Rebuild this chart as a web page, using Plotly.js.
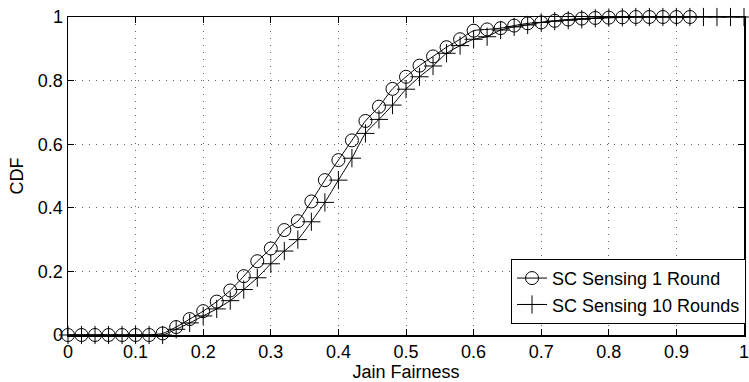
<!DOCTYPE html>
<html><head><meta charset="utf-8">
<script src="https://cdn.plot.ly/plotly-3.0.1.min.js"></script>
<style>html,body{margin:0;padding:0;background:#fff;}#c{width:749px;height:382px;}</style>
</head><body><div id="c"></div>
<script>
const xAll = [0,0.02,0.04,0.06,0.08,0.10,0.12,0.14,0.16,0.18,0.20,0.22,0.24,0.26,0.28,0.30,0.32,0.34,0.36,0.38,0.40,0.42,0.44,0.46,0.48,0.50,0.52,0.54,0.56,0.58,0.60,0.62,0.64,0.66,0.68,0.70,0.72,0.74,0.76,0.78,0.80,0.82,0.84,0.86,0.88,0.90,0.92,0.94,0.96,0.98,1.00];
const xRound1 = xAll.slice(0,47);
const yRound1 = [0,0,0,0,0,0,0,0.005,0.025,0.05,0.075,0.105,0.14,0.185,0.232,0.272,0.33,0.358,0.42,0.487,0.55,0.612,0.673,0.718,0.774,0.812,0.847,0.876,0.905,0.93,0.957,0.961,0.965,0.973,0.98,0.983,0.988,0.992,0.995,0.997,0.998,0.999,1,1,1,1,1];
const xRound10 = xAll;
const yRound10 = [0,0,0,0,0,0,0,0,0.018,0.038,0.06,0.082,0.108,0.143,0.18,0.224,0.264,0.30,0.356,0.417,0.487,0.556,0.634,0.678,0.723,0.773,0.812,0.846,0.886,0.91,0.93,0.938,0.959,0.969,0.975,0.983,0.987,0.99,0.993,0.996,0.998,0.999,1,1,1,1,1,1,1,1,1];
const names = ["SC Sensing 1 Round","SC Sensing 10 Rounds"];
const xTicks = [0,0.1,0.2,0.3,0.4,0.5,0.6,0.7,0.8,0.9,1];
const xTickText = ["0","0.1","0.2","0.3","0.4","0.5","0.6","0.7","0.8","0.9","1"];
const yTicks = [0,0.2,0.4,0.6,0.8,1];
const yTickText = ["0","0.2","0.4","0.6","0.8","1"];

const font = "'Liberation Sans', Arial, sans-serif";
const traces = [
  {x:xRound1,y:yRound1,name:names[0],type:"scatter",mode:"lines+markers",
   line:{color:"#000",width:1,shape:"spline",smoothing:0.6},
   marker:{symbol:"circle-open",size:13,color:"#000",line:{width:1,color:"#000"}},cliponaxis:false},
  {x:xRound10,y:yRound10,name:names[1],type:"scatter",mode:"lines+markers",
   line:{color:"#000",width:1,shape:"spline",smoothing:0.6},
   marker:{symbol:"cross-thin-open",size:13,color:"#000",line:{width:1,color:"#000"}},cliponaxis:false}
];
const axisCommon = {showline:true,linecolor:"#000",linewidth:1.5,mirror:"ticks",ticks:"inside",ticklen:6,tickcolor:"#000",
  showgrid:true,gridcolor:"#666",griddash:"1px,6px",gridwidth:1,zeroline:false,ticklabeloverflow:"allow",
  tickfont:{family:font,size:18,color:"#000"}};
const layout = {
  width:749,height:382,margin:{l:68,r:3,t:17,b:47},
  paper_bgcolor:"#fff",plot_bgcolor:"#fff",
  font:{family:font,color:"#000"},
  xaxis:Object.assign({},axisCommon,{range:[0,1],tickvals:xTicks,ticktext:xTickText,ticklabelstandoff:0,
    title:{text:"Jain Fairness",font:{family:font,size:18,color:"#000"},standoff:0}}),
  yaxis:Object.assign({},axisCommon,{range:[0,1],tickvals:yTicks,ticktext:yTickText,
    title:{text:"CDF",font:{family:font,size:18,color:"#000"},standoff:9}}),
  showlegend:true,
  legend:{x:1.003,xanchor:"right",y:0.035,yanchor:"bottom",bgcolor:"#fff",bordercolor:"#000",borderwidth:1,
    font:{family:font,size:18,color:"#000"},tracegroupgap:0}
};
Plotly.newPlot("c",traces,layout,{displayModeBar:false,staticPlot:true});
</script>
</body></html>
